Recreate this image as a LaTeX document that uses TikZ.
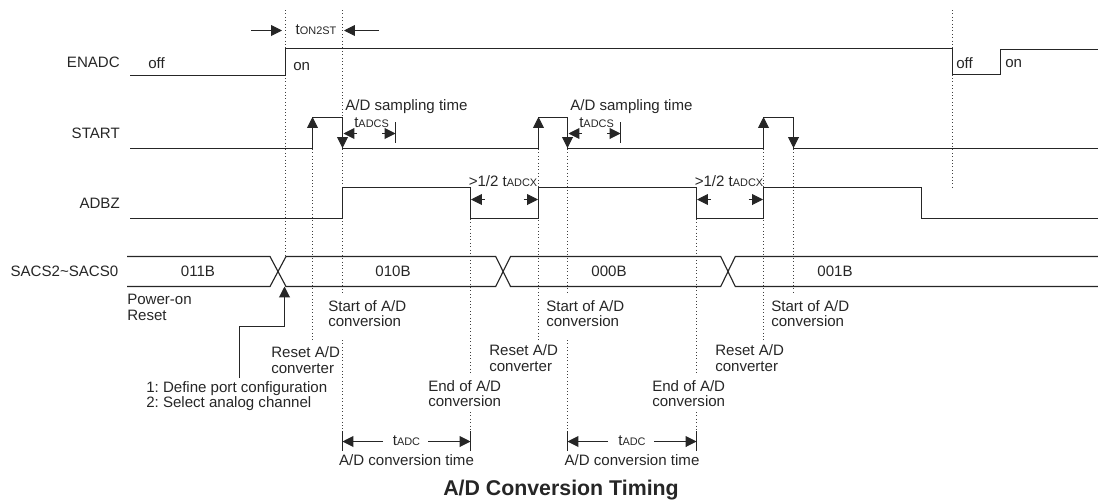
\documentclass[tikz,border=0pt]{standalone}
\usepackage{fontspec}
\setmainfont{Liberation Sans}
\usetikzlibrary{arrows.meta}

\newcommand{\subt}[1]{t{\fontsize{8.2}{9}\selectfont #1}}
\frenchspacing

\begin{document}
\begin{tikzpicture}[x=0.75pt,y=-0.75pt,
    sig/.style={line width=0.85pt,color=black!85},
    guide/.style={line width=0.55pt,dotted,color=black!75},
    tip/.style={line width=0.7pt,color=black!85,-{Triangle[length=8.2pt,width=8.2pt]}},
    lbl/.style={inner sep=0pt,anchor=west,align=left,color=black!85,font=\fontsize{11.3}{11.8}\selectfont},
    mid/.style={lbl,anchor=center,align=center}]
  \useasboundingbox (0,0) rectangle (1098,501);
  \def\xa{285.5}
  \def\xb{312.5}
  \def\xc{342.5}
  \def\xd{470.5}
  \def\xe{538.5}
  \def\xf{567.5}
  \def\xg{696.5}
  \def\xh{763.5}
  \def\xi{793.5}

  % guides
  \foreach \x/\ya/\yb in {\xa/10/256, \xb/149/340, \xc/10/295, \xc/340/430,
      \xd/219/375, \xd/412/430, \xe/149/340, \xf/149/295, \xf/340/430,
      \xg/219/375, \xg/412/430, \xh/149/340, \xi/149/295, 952.5/10/187}
    \draw[guide] (\x,\ya)--(\x,\yb);

  % ENADC
  \node[lbl,anchor=east] (enadc) at (120,62) {ENADC};
  \draw[sig] (130,75.5)--(\xa,75.5)--(\xa,48.5)--(952.5,48.5)--(952.5,74.5)--(1000.5,74.5)--(1000.5,49.5)--(1098,49.5);
  \node[lbl] (off1) at (148,63.5) {off};
  \node[lbl] (on1) at (293,66.5) {on};
  \node[lbl] (off2) at (956,63.5) {off};
  \node[lbl] (on2) at (1005,63.5) {on};

  % START
  \node[lbl,anchor=east] (start) at (120,133.5) {START};
  \draw[sig] (130,148.5)--(\xb,148.5)--(\xb,117.5)--(\xc,117.5)--(\xc,148.5)--(\xe,148.5)--(\xe,117.5)
    --(\xf,117.5)--(\xf,148.5)--(\xh,148.5)--(\xh,117.5)--(\xi,117.5)--(\xi,148.5)--(1098,148.5);
  \foreach \x/\n in {\xb/a,\xe/b,\xh/c} {
    \coordinate (rise\n) at (\x,129);
    \coordinate (peak\n) at (\x,117);
    \draw[tip] (rise\n)--(peak\n);
  }
  \foreach \x/\n in {\xc/a,\xf/b,\xi/c} {
    \coordinate (drop\n) at (\x,128);
    \coordinate (foot\n) at (\x,148);
    \draw[tip] (drop\n)--(foot\n);
  }

  % ADBZ
  \node[lbl,anchor=east] (adbz) at (120,203.5) {ADBZ};
  \draw[sig] (130,218.5)--(\xc,218.5)--(\xc,187.5)--(\xd,187.5)--(\xd,218.5)--(\xe,218.5)--(\xe,187.5)
    --(\xg,187.5)--(\xg,218.5)--(\xh,218.5)--(\xh,187.5)--(921.5,187.5)--(921.5,218.5)--(1098,218.5);

  % SACS2~SACS0
  \node[lbl,anchor=east] (sacs) at (118.5,271) {SACS2\textasciitilde SACS0};
  \draw[sig] (127,256.5)--(270,256.5)--(286,286.5)--(495.7,286.5)--(510.5,256.5)--(720.7,256.5)--(735.3,286.5)--(1098,286.5);
  \draw[sig] (127,286.5)--(270,286.5)--(286,256.5)--(495.7,256.5)--(510.5,286.5)--(720.7,286.5)--(735.3,256.5)--(1098,256.5);
  \node[mid] (val1) at (198,271) {011B};
  \node[mid] (val2) at (393,271) {010B};
  \node[mid] (val3) at (609,271) {000B};
  \node[mid] (val4) at (835,271) {001B};
  \node[lbl] (por) at (127,307.5) {Power-on\\Reset};

  % notes under the bus
  \node[lbl] (start1) at (328,313.5) {Start of A/D\\conversion};
  \node[lbl] (start2) at (546,313.5) {Start of A/D\\conversion};
  \node[lbl] (start3) at (771,313.5) {Start of A/D\\conversion};
  \node[lbl] (reset1) at (271,360) {Reset A/D\\converter};
  \node[lbl] (reset2) at (489,358) {Reset A/D\\converter};
  \node[lbl] (reset3) at (715,358) {Reset A/D\\converter};
  \node[lbl] (end1) at (428,393.5) {End of A/D\\conversion};
  \node[lbl] (end2) at (652,393.5) {End of A/D\\conversion};
  \node[lbl] (cfg) at (146,396) {1: Define port configuration\\2: Select analog channel};
  \coordinate (cfgtop) at (239.5,378);
  \coordinate (cross) at (284.5,286.5);
  \draw[tip,line width=0.8pt] (cfgtop)--(239.5,326.5)--(284.5,326.5)--(cross);

  % tON2ST
  \node[mid] (ton) at (316,30) {\subt{ON2ST}};
  \coordinate (tona) at (251,30.5);
  \coordinate (tonb) at (282,30.5);
  \coordinate (tonc) at (379,30.5);
  \coordinate (tond) at (344,30.5);
  \draw[tip] (tona)--(tonb);
  \draw[tip] (tonc)--(tond);

  % A/D sampling time
  \foreach \x/\n in {\xc/a,\xf/b} {
    \node[lbl] (samp\n) at ({\x+2.5},106.5) {A/D sampling time};
    \node[lbl] (tcs\n) at ({\x+11.5},123) {\subt{ADCS}};
    \coordinate (csa\n) at ({\x+14.5},133.5);
    \coordinate (csb\n) at ({\x+1},133.5);
    \coordinate (csc\n) at ({\x+39.5},133.5);
    \coordinate (csd\n) at ({\x+53},133.5);
    \coordinate (cse\n) at ({\x+53},122);
    \coordinate (csf\n) at ({\x+53},143);
    \draw[tip] (csa\n)--(csb\n);
    \draw[tip] (csc\n)--(csd\n);
    \draw[sig] (cse\n)--(csf\n);
  }

  % >1/2 tADCX
  \foreach \x/\y/\n in {\xd/\xe/a,\xg/\xh/b} {
    \node[lbl] (half\n) at ({\x-2},181.5) {>1/2 \subt{ADCX}};
    \coordinate (hfa\n) at ({\x+14},199.5);
    \coordinate (hfb\n) at ({\x+0.5},199.5);
    \coordinate (hfc\n) at ({\y-15},199.5);
    \coordinate (hfd\n) at ({\y-0.5},199.5);
    \draw[tip] (hfa\n)--(hfb\n);
    \draw[tip] (hfc\n)--(hfd\n);
  }

  % tADC
  \foreach \x/\y/\n in {\xc/\xd/a,\xf/\xg/b} {
    \coordinate (ada\n) at (\x,431);
    \coordinate (adb\n) at (\x,451);
    \coordinate (adc\n) at (\y,431);
    \coordinate (add\n) at (\y,451);
    \draw[sig] (ada\n)--(adb\n);
    \draw[sig] (adc\n)--(add\n);
    \node[mid] (tad\n) at ({(\x+\y)/2},441) {\subt{ADC}};
    \coordinate (ade\n) at ({\x+40.5},441.5);
    \coordinate (adf\n) at (\x,441.5);
    \coordinate (adg\n) at ({\y-42.5},441.5);
    \coordinate (adh\n) at (\y,441.5);
    \draw[tip] (ade\n)--(adf\n);
    \draw[tip] (adg\n)--(adh\n);
    \node[mid] (cnv\n) at ({(\x+\y)/2},460.5) {A/D conversion time};
  }

  % title
  \node[mid,font=\fontsize{16}{18}\bfseries\selectfont] (title) at (561,490.5) {A/D Conversion Timing};
\end{tikzpicture}
\end{document}
